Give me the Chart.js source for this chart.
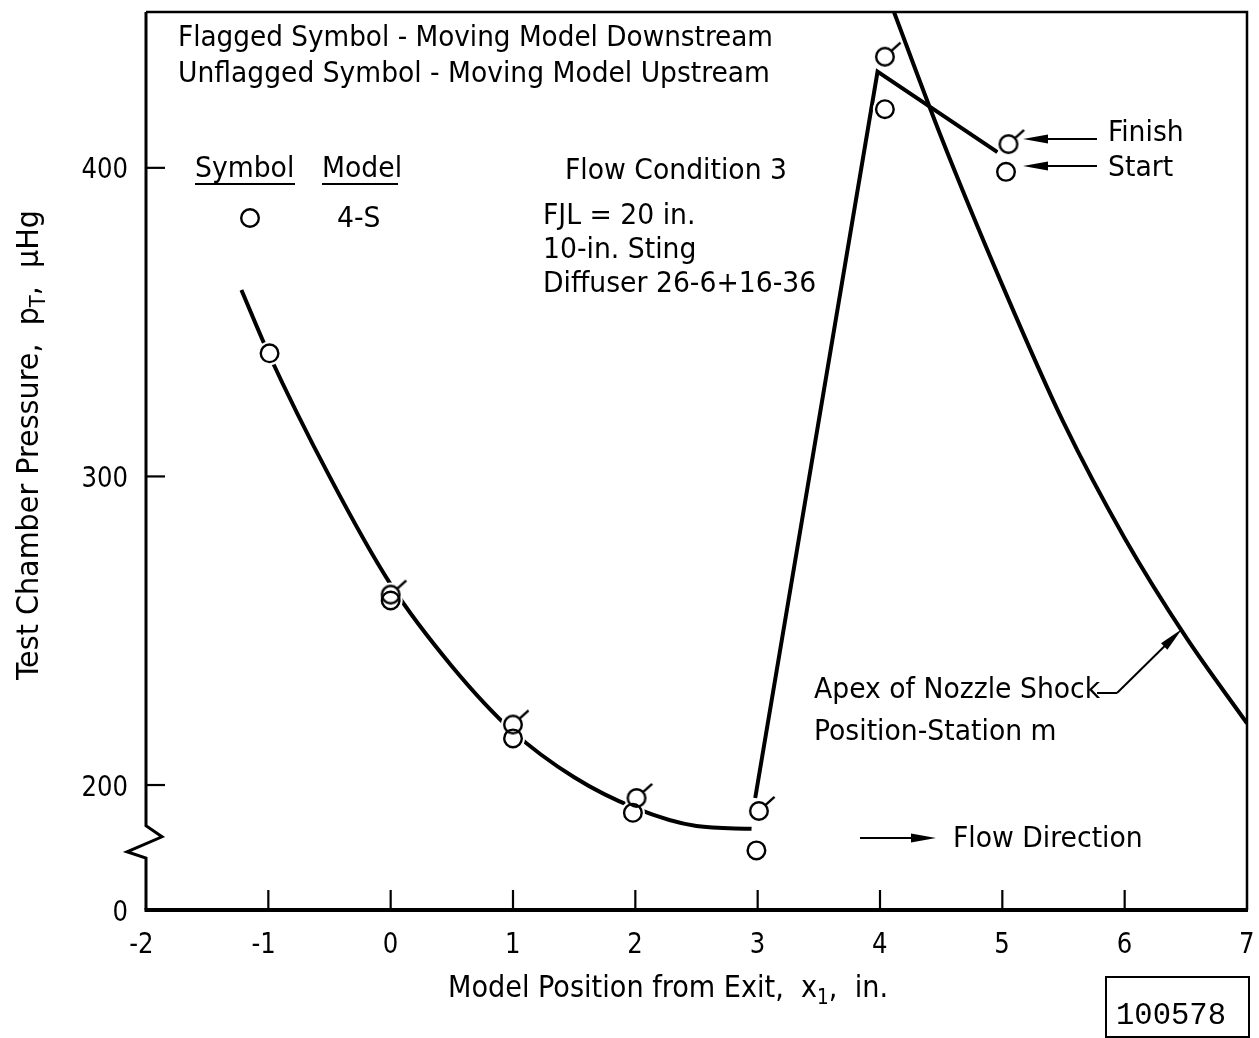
<!DOCTYPE html>
<html>
<head>
<meta charset="utf-8">
<script src="https://cdn.jsdelivr.net/npm/chart.js@4.4.1/dist/chart.umd.min.js"></script>
<style>
  html, body { margin: 0; padding: 0; background: #fff; }
  canvas { display: block; }
</style>
</head>
<body>
<canvas id="chart" width="1259" height="1038"></canvas>
<script>
// Model position x1 (in.) against test chamber pressure pT (microns Hg)
const flaggedX = [0, 1, 2.01, 3.01, 4.04, 5.05];
const flaggedY = [261.7, 219.6, 195.8, 191.6, 436, 407.7];
const unflaggedX = [-0.99, 0, 1, 1.98, 2.99, 4.04, 5.03];
const unflaggedY = [339.9, 259.8, 215.1, 191, 178.8, 419, 398.7];

// faired curve through the downstream / upstream points
const fairX = [-1.22, -1, -0.5, 0, 0.5, 1, 1.5, 2, 2.5, 2.95];
const fairY = [360.4, 340, 300, 265, 238.5, 217.3, 202.5, 192.5, 186.7, 185.8];

// jump when the model passes the nozzle shock
const riseX = [2.98, 3.98, 4.96];
const riseY = [195.8, 431.2, 405.1];

// apex of nozzle shock, station m
const shockX = [4.1, 4.5, 5, 5.5, 6, 6.5, 7];
const shockY = [452, 410, 362, 317.5, 280, 248, 220];

// axis ticks; the lowest y tick sits below the axis break and reads 0
const xTicks = [-2, -1, 0, 1, 2, 3, 4, 5, 6, 7];
const yTickValues = [159.5, 200, 300, 400];
const yTickLabels = ['0', '200', '300', '400'];

const FONT = '"Liberation Sans Narrow", "DejaVu Sans Condensed", "Liberation Sans", "DejaVu Sans", sans-serif';
const INK = '#000';

function pts(xs, ys) {
    return xs.map((x, i) => ({ x: x, y: ys[i] }));
}

// circle with a short flag pointing up and to the right
function flagSymbol() {
    const c = document.createElement('canvas');
    c.width = 48; c.height = 48;
    const g = c.getContext('2d');
    g.strokeStyle = INK;
    g.lineWidth = 2.4;
    g.beginPath();
    g.arc(24, 24, 8.8, 0, Math.PI * 2);
    g.stroke();
    const a = -42 * Math.PI / 180;
    g.beginPath();
    g.moveTo(24 + 9 * Math.cos(a), 24 + 9 * Math.sin(a));
    g.lineTo(24 + 21 * Math.cos(a), 24 + 21 * Math.sin(a));
    g.stroke();
    return c;
}

function runsNatural(ctx, runs, size, fam) {
    let w = 0;
    runs.forEach(r => {
        ctx.font = (r.sub ? size * 0.68 : size) + 'px ' + fam;
        w += ctx.measureText(r.t).width;
    });
    return w;
}

// text made of runs, squeezed horizontally to a given width
function drawRuns(ctx, runs, x, y, size, width, rot, family) {
    const fam = family || FONT;
    ctx.save();
    ctx.translate(x, y);
    if (rot) ctx.rotate(rot);
    ctx.textAlign = 'left';
    ctx.textBaseline = 'alphabetic';
    if (width) ctx.scale(width / runsNatural(ctx, runs, size, fam), 1);
    let cx = 0;
    runs.forEach(r => {
        ctx.font = (r.sub ? size * 0.68 : size) + 'px ' + fam;
        ctx.fillText(r.t, cx, r.sub ? size * 0.24 : 0);
        cx += ctx.measureText(r.t).width;
    });
    ctx.restore();
}

function arrow(ctx, x1, y1, x2, y2) {
    const ang = Math.atan2(y2 - y1, x2 - x1);
    const head = 25, half = 4.5;
    ctx.beginPath();
    ctx.moveTo(x1, y1);
    ctx.lineTo(x2 - head * 0.5 * Math.cos(ang), y2 - head * 0.5 * Math.sin(ang));
    ctx.stroke();
    const bx = x2 - head * Math.cos(ang), by = y2 - head * Math.sin(ang);
    ctx.beginPath();
    ctx.moveTo(x2, y2);
    ctx.lineTo(bx + half * Math.sin(ang), by - half * Math.cos(ang));
    ctx.lineTo(bx - half * Math.sin(ang), by + half * Math.cos(ang));
    ctx.closePath();
    ctx.fill();
}

// header lines, fitted to their printed width
const header = [
    { t: 'Flagged Symbol - Moving Model Downstream', x: 178, y: 46, w: 595 },
    { t: 'Unflagged Symbol - Moving Model Upstream', x: 178, y: 82, w: 592 }
];

// labels placed on the plot, all with one condensing factor
const notes = [
    { t: 'Symbol', x: 195, y: 177 },
    { t: 'Model', x: 322, y: 177 },
    { t: '4-S', x: 337, y: 227 },
    { t: 'Flow Condition 3', x: 565, y: 179 },
    { t: 'FJL = 20 in.', x: 543, y: 224 },
    { t: '10-in. Sting', x: 543, y: 258 },
    { t: 'Diffuser 26-6+16-36', x: 543, y: 292 },
    { t: 'Finish', x: 1108, y: 141 },
    { t: 'Start', x: 1108, y: 176 },
    { t: 'Apex of Nozzle Shock', x: 814, y: 698 },
    { t: 'Position-Station m', x: 814, y: 740 },
    { t: 'Flow Direction', x: 953, y: 847 }
];
const NOTE_SIZE = 29;

const framePlugin = {
    id: 'frame',
    afterDraw(chart) {
        const ctx = chart.ctx;
        const xs = chart.scales.x, ys = chart.scales.y;
        const a = chart.chartArea;
        ctx.save();
        ctx.strokeStyle = INK;
        ctx.fillStyle = INK;
        ctx.lineCap = 'butt';
        ctx.lineJoin = 'miter';

        // top and right border
        ctx.lineWidth = 2.5;
        ctx.beginPath();
        ctx.moveTo(a.left, a.top);
        ctx.lineTo(a.right, a.top);
        ctx.lineTo(a.right, a.bottom);
        ctx.stroke();

        // left axis with the break
        const bTop = ys.getPixelForValue(186.8);
        const bEnd = ys.getPixelForValue(176.3);
        ctx.lineWidth = 3;
        ctx.beginPath();
        ctx.moveTo(a.left, a.top);
        ctx.lineTo(a.left, bTop);
        ctx.lineTo(a.left + 16, bTop + 11);
        ctx.lineTo(a.left - 19, bTop + 26);
        ctx.lineTo(a.left, bEnd);
        ctx.lineTo(a.left, a.bottom);
        ctx.stroke();

        // bottom axis
        ctx.lineWidth = 4;
        ctx.beginPath();
        ctx.moveTo(a.left - 1.5, a.bottom);
        ctx.lineTo(a.right + 1, a.bottom);
        ctx.stroke();

        // inward tick marks
        ctx.lineWidth = 2.2;
        xTicks.forEach(v => {
            if (v === xTicks[0] || v === xTicks[xTicks.length - 1]) return;
            const px = xs.getPixelForValue(v);
            ctx.beginPath();
            ctx.moveTo(px, a.bottom);
            ctx.lineTo(px, a.bottom - 20);
            ctx.stroke();
        });
        yTickValues.forEach((v, i) => {
            if (i === 0) return;
            const py = ys.getPixelForValue(v);
            ctx.beginPath();
            ctx.moveTo(a.left, py);
            ctx.lineTo(a.left + 19, py);
            ctx.stroke();
        });

        // tick labels
        const tickSize = 29;
        ctx.font = tickSize + 'px ' + FONT;
        const sx = 15.5 / ctx.measureText('0').width;
        xTicks.forEach(v => {
            const lbl = String(v);
            ctx.font = tickSize + 'px ' + FONT;
            const w = ctx.measureText(lbl).width * sx;
            const px = xs.getPixelForValue(v);
            drawRuns(ctx, [{ t: lbl }], px + 7.5 - w, a.bottom + 43, tickSize, w);
        });
        yTickValues.forEach((v, i) => {
            const lbl = yTickLabels[i];
            ctx.font = tickSize + 'px ' + FONT;
            const w = ctx.measureText(lbl).width * sx;
            const py = ys.getPixelForValue(v);
            drawRuns(ctx, [{ t: lbl }], a.left - 18 - w, py + 10.5, tickSize, w);
        });

        // axis titles
        drawRuns(ctx, [{ t: 'Model Position from Exit,  x' }, { t: '1', sub: true }, { t: ',  in.' }],
            448, 997, 31, 440);
        drawRuns(ctx, [{ t: 'Test Chamber Pressure,  p' }, { t: 'T', sub: true }, { t: ',  \u03bcHg' }],
            38, 680, 30, 470, -Math.PI / 2);

        // header and notes
        header.forEach(n => drawRuns(ctx, [{ t: n.t }], n.x, n.y, NOTE_SIZE, n.w));
        const k = 222 / runsNatural(ctx, [{ t: 'Flow Condition 3' }], NOTE_SIZE, FONT);
        notes.forEach(n => {
            const w = runsNatural(ctx, [{ t: n.t }], NOTE_SIZE, FONT) * k;
            drawRuns(ctx, [{ t: n.t }], n.x, n.y, NOTE_SIZE, w);
        });

        // legend underlines and symbol
        ctx.lineWidth = 2;
        ctx.beginPath();
        ctx.moveTo(195, 184); ctx.lineTo(295, 184);
        ctx.moveTo(322, 184); ctx.lineTo(398, 184);
        ctx.stroke();
        ctx.lineWidth = 2.4;
        ctx.beginPath();
        ctx.arc(250, 218, 8.8, 0, Math.PI * 2);
        ctx.stroke();

        // pointers
        ctx.lineWidth = 2;
        arrow(ctx, 1097, 139, 1023, 139);
        arrow(ctx, 1097, 166, 1023, 166);
        arrow(ctx, 860, 838, 936, 838);
        ctx.beginPath();
        ctx.moveTo(1097, 693);
        ctx.lineTo(1117, 693);
        ctx.stroke();
        arrow(ctx, 1117, 693, 1182, 629);

        // photo number box
        ctx.lineWidth = 2;
        ctx.strokeRect(1106, 977, 143, 60);
        drawRuns(ctx, [{ t: '100578' }], 1116, 1024, 31, 110, 0, '"Liberation Mono", "DejaVu Sans Mono", monospace');

        ctx.restore();
    }
};

const allX = flaggedX.concat(unflaggedX);
const allY = flaggedY.concat(unflaggedY);

const lineStyle = {
    showLine: true,
    pointRadius: 0,
    borderColor: INK,
    borderWidth: 4,
    fill: false,
    clip: 0
};

new Chart(document.getElementById('chart').getContext('2d'), {
    type: 'scatter',
    data: {
        datasets: [
            {
                label: 'Moving model downstream',
                data: pts(flaggedX, flaggedY),
                pointStyle: flagSymbol(),
                pointRadius: 9
            },
            {
                label: 'Moving model upstream',
                data: pts(unflaggedX, unflaggedY),
                pointStyle: 'circle',
                pointRadius: 8.8,
                borderColor: INK,
                borderWidth: 2.4,
                backgroundColor: 'rgba(0,0,0,0)'
            },
            {
                label: 'gap',
                data: pts(allX, allY),
                pointRadius: 12,
                borderWidth: 0,
                borderColor: '#fff',
                backgroundColor: '#fff'
            },
            Object.assign({ label: 'Faired curve', data: pts(fairX, fairY), cubicInterpolationMode: 'monotone' }, lineStyle),
            Object.assign({ label: 'Shock passage', data: pts(riseX, riseY), tension: 0 }, lineStyle),
            Object.assign({ label: 'Apex of nozzle shock', data: pts(shockX, shockY), cubicInterpolationMode: 'monotone' }, lineStyle)
        ]
    },
    options: {
        responsive: false,
        animation: false,
        devicePixelRatio: 1,
        layout: { padding: { left: 146, top: 5, right: 11, bottom: 128 } },
        plugins: {
            legend: { display: false },
            tooltip: { enabled: false }
        },
        scales: {
            x: { type: 'linear', display: false, min: xTicks[0], max: xTicks[xTicks.length - 1] },
            y: { type: 'linear', display: false, min: yTickValues[0], max: 450.5 }
        }
    },
    plugins: [framePlugin]
});
</script>
</body>
</html>
